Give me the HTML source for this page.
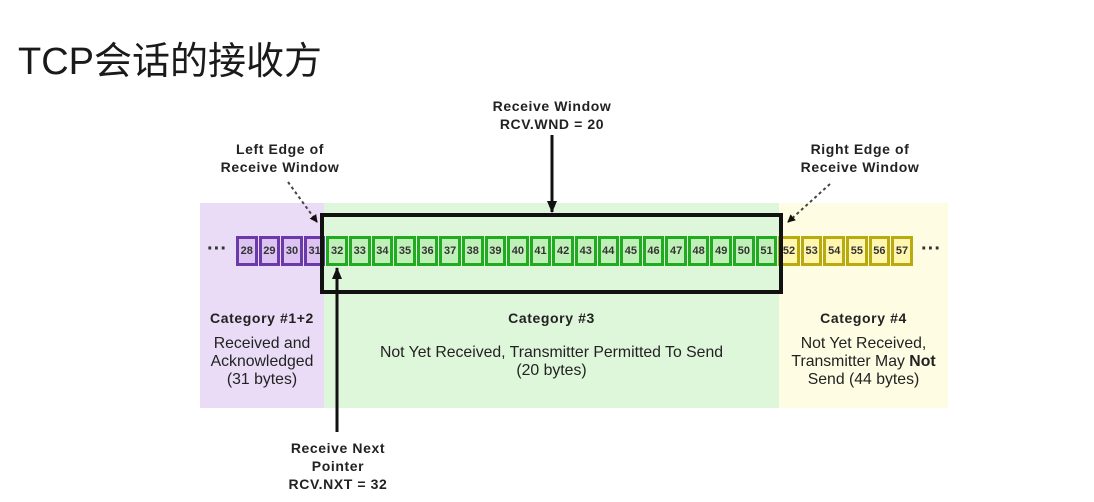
<!DOCTYPE html>
<html><head><meta charset="utf-8"><style>
body{margin:0;width:1094px;height:502px;background:#fff;position:relative;overflow:hidden;font-family:"Liberation Sans",Arial,sans-serif;}
.a{position:absolute}
.t{position:absolute;text-align:center;color:#222;font-size:15.8px;line-height:18px;white-space:nowrap}
.b{font-weight:bold;letter-spacing:0.6px;font-size:14px}
.row{position:absolute;left:236px;top:236px;display:flex}
.c{width:21.6px;height:30px;margin-right:1px;box-sizing:border-box;border:3px solid;font-size:11px;font-weight:bold;display:flex;align-items:center;justify-content:center;color:#333}
.p{border-color:#6a3aa8;background:#dcc3f2}
.g{border-color:#22aa22;background:#bff0b8}
.y{border-color:#b9aa10;background:#fff7b0}
</style></head><body>
<div class="a" style="left:18px;top:30px;font-size:38px;font-family:'Liberation Sans','Noto Sans CJK SC',sans-serif;color:#1a1a1a">TCP会话的接收方</div>
<div class="a" style="left:200px;top:203px;width:124px;height:205px;background:#eadcf6"></div>
<div class="a" style="left:324px;top:203px;width:455px;height:205px;background:#def7da"></div>
<div class="a" style="left:779px;top:203px;width:169px;height:205px;background:#fefce2"></div>
<div class="row">
<div class="c p">28</div><div class="c p">29</div><div class="c p">30</div><div class="c p">31</div>
<div class="c g">32</div><div class="c g">33</div><div class="c g">34</div><div class="c g">35</div><div class="c g">36</div><div class="c g">37</div><div class="c g">38</div><div class="c g">39</div><div class="c g">40</div><div class="c g">41</div><div class="c g">42</div><div class="c g">43</div><div class="c g">44</div><div class="c g">45</div><div class="c g">46</div><div class="c g">47</div><div class="c g">48</div><div class="c g">49</div><div class="c g">50</div><div class="c g">51</div>
<div class="c y">52</div><div class="c y">53</div><div class="c y">54</div><div class="c y">55</div><div class="c y">56</div><div class="c y">57</div>
</div>
<div class="a" style="left:207px;top:238px;font-size:20px;font-weight:bold;color:#333">···</div>
<div class="a" style="left:921px;top:238px;font-size:20px;font-weight:bold;color:#333">···</div>
<div class="a" style="left:320px;top:213px;width:463px;height:81px;box-sizing:border-box;border:4px solid #111"></div>
<svg class="a" style="left:0;top:0" width="1094" height="502">
<defs><marker id="m" markerWidth="8" markerHeight="8" refX="7" refY="4" orient="auto" markerUnits="userSpaceOnUse"><path d="M0,0 L8,4 L0,8z" fill="#111"/></marker>
<marker id="m2" markerWidth="12" markerHeight="10" refX="11" refY="5" orient="auto" markerUnits="userSpaceOnUse"><path d="M0,0 L12,5 L0,10z" fill="#111"/></marker></defs>
<line x1="552" y1="135" x2="552" y2="212" stroke="#111" stroke-width="3" marker-end="url(#m2)"/>
<line x1="337" y1="432" x2="337" y2="268" stroke="#111" stroke-width="3" marker-end="url(#m2)"/>
<line x1="288" y1="182" x2="317" y2="222" stroke="#444" stroke-width="2" stroke-dasharray="3,3" marker-end="url(#m)"/>
<line x1="830" y1="184" x2="788" y2="222" stroke="#444" stroke-width="2" stroke-dasharray="3,3" marker-end="url(#m)"/>
</svg>
<div class="t b" style="left:452px;top:97px;width:200px">Receive Window<br>RCV.WND = 20</div>
<div class="t b" style="left:190px;top:140px;width:180px">Left Edge of<br>Receive Window</div>
<div class="t b" style="left:770px;top:140px;width:180px">Right Edge of<br>Receive Window</div>
<div class="t b" style="left:200px;top:309px;width:124px">Category #1+2</div>
<div class="t" style="left:200px;top:335px;width:124px">Received and<br>Acknowledged<br>(31 bytes)</div>
<div class="t b" style="left:324px;top:309px;width:455px">Category #3</div>
<div class="t" style="left:324px;top:344px;width:455px">Not Yet Received, Transmitter Permitted To Send<br>(20 bytes)</div>
<div class="t b" style="left:779px;top:309px;width:169px">Category #4</div>
<div class="t" style="left:779px;top:335px;width:169px">Not Yet Received,<br>Transmitter May <b>Not</b><br>Send (44 bytes)</div>
<div class="t b" style="left:248px;top:439px;width:180px">Receive Next<br>Pointer<br>RCV.NXT = 32</div>
</body></html>
